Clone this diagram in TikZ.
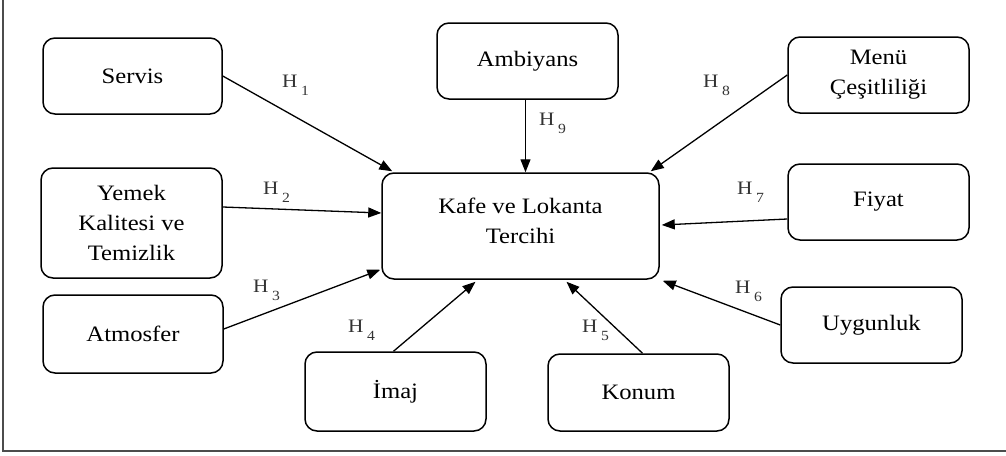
\documentclass[tikz,border=0pt]{standalone}
\usepackage{fontspec}
\setmainfont{Liberation Serif}[FakeStretch=1.12]
\usetikzlibrary{arrows.meta,calc}
\begin{document}
\begin{tikzpicture}[x=1pt,y=-1pt,
  box/.style={draw, rounded corners=12pt, line width=1.5pt, align=center, inner sep=0pt,
    font=\fontsize{22}{30}\selectfont},
  arr/.style={line width=1.3pt, -{Triangle[length=13pt,width=10pt]}},
  lab/.style={anchor=base west, inner sep=0pt, font=\fontsize{19}{19}\selectfont, text=black!80},
  frame/.style={line width=2pt, draw=black!70}]
\useasboundingbox (0,0) rectangle (1006,455);
\draw[frame] (3,0) -- (3,451) -- (1006,451);
\newcommand{\hl}[1]{H\hspace{3.5pt}\raisebox{-8pt}{\fontsize{14}{14}\selectfont #1}}
% boxes
\node[box, minimum width=179pt, minimum height=76pt] (servis) at (132.5,76) {Servis};
\node[box, minimum width=181pt, minimum height=76pt] (ambiyans) at (527.5,61) {Ambiyans};
\node[box, minimum width=181pt, minimum height=76pt] (menu) at (878.5,75) {Menü\\Çeşitliliği};
\node[box, minimum width=181pt, minimum height=110pt] (yemek) at (131.5,223) {Yemek\\Kalitesi ve\\Temizlik};
\node[box, minimum width=277pt, minimum height=106pt, text depth=10pt] (kafe) at (520.5,226) {Kafe ve Lokanta\\Tercihi};
\node[box, minimum width=181pt, minimum height=76pt] (fiyat) at (878.5,202) {Fiyat};
\node[box, minimum width=180pt, minimum height=78pt] (atmosfer) at (133,334) {Atmosfer};
\node[box, minimum width=181pt, minimum height=76pt] (uygunluk) at (871.5,325) {Uygunluk};
\node[box, minimum width=181pt, minimum height=79pt] (imaj) at (395.5,391.5) {İmaj};
\node[box, minimum width=181pt, minimum height=77pt] (konum) at (638.5,392.5) {Konum};
% arrows
\draw[arr] (servis.east) -- ($(kafe.north west)+(11,-1)$);
\draw[arr] ($(yemek.east)+(0,-16)$) -- ($(kafe.west)+(0,-13)$);
\draw[arr] ($(atmosfer.east)+(0,-5)$) -- ($(kafe.south west)+(-1,-10)$);
\draw[arr] ($(imaj.north)+(-2,0)$) -- ($(kafe.south)+(-45,2)$);
\draw[arr] ($(konum.north)+(4,0)$) -- ($(kafe.south)+(46,2)$);
\draw[arr] (uygunluk.west) -- ($(kafe.south east)+(3,1)$);
\draw[arr] ($(fiyat.west)+(0,17)$) -- ($(kafe.east)+(2,-1)$);
\draw[arr] (menu.west) -- ($(kafe.north east)+(-9,-1)$);
\draw[arr] ($(ambiyans.south)+(-2,0)$) -- ($(kafe.north)+(5,0)$);
% labels
\node[lab] (h1) at (282,87) {\hl{1}};
\node[lab] (h2) at (263,194) {\hl{2}};
\node[lab] (h3) at (253,292) {\hl{3}};
\node[lab] (h4) at (348,332) {\hl{4}};
\node[lab] (h5) at (582,332) {\hl{5}};
\node[lab] (h6) at (735,293) {\hl{6}};
\node[lab] (h7) at (737,194) {\hl{7}};
\node[lab] (h8) at (703,87) {\hl{8}};
\node[lab] (h9) at (539,125) {\hl{9}};
\end{tikzpicture}
\end{document}
